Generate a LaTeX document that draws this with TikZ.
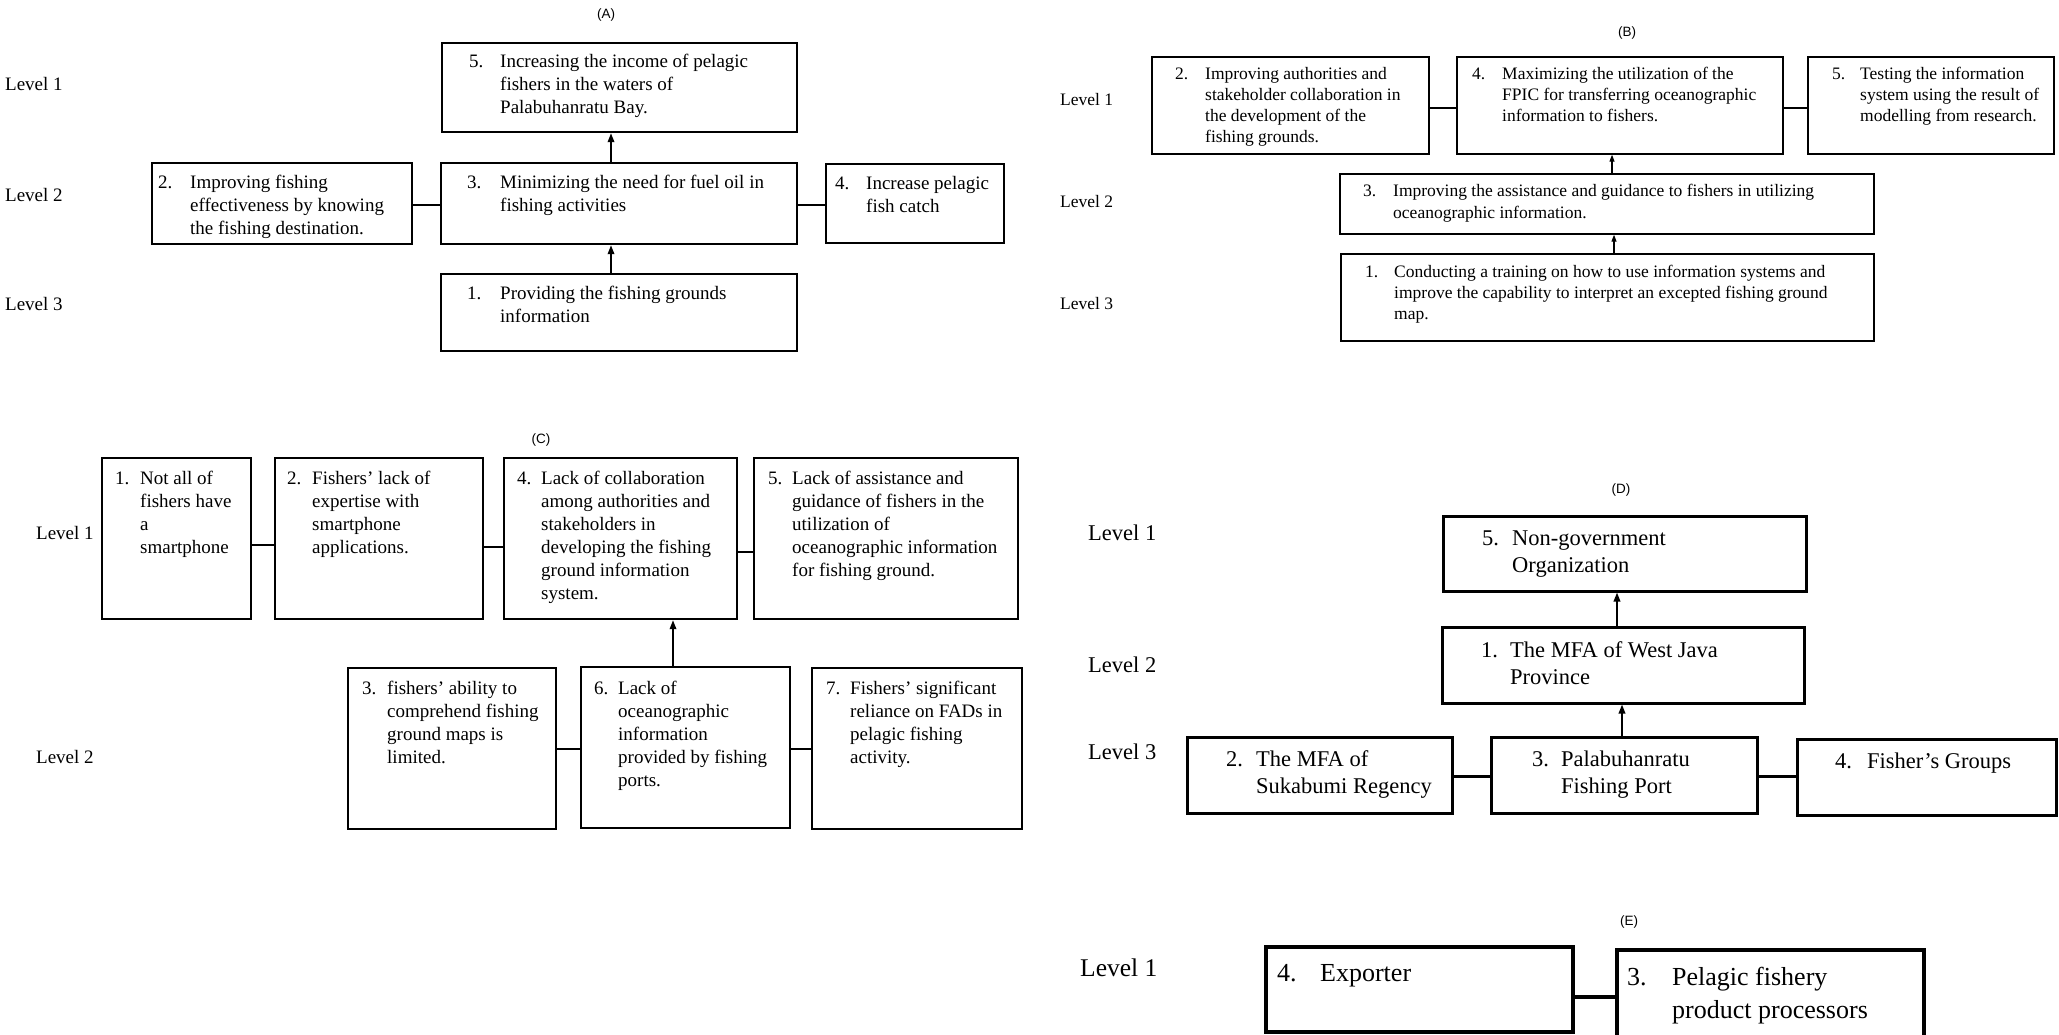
\documentclass[tikz,border=0pt]{standalone}
\usepackage{fontspec}
\setmainfont{Liberation Serif}
\newfontfamily\lblsans{Liberation Sans}
\usetikzlibrary{fit,arrows.meta}
\newcommand\numlist[3]{\makebox[#2][l]{#1}\begin{tabular}[t]{@{}l@{}}#3\end{tabular}}
\begin{document}
\begin{tikzpicture}[x=1pt,y=-1pt,
  bx/.style={draw, inner sep=0pt, line width=#1},
  abox/.style={bx=2.4pt},
  bbox/.style={bx=1.4pt},
  cbox/.style={bx=2.4pt},
  dbox/.style={bx=3pt},
  ebox/.style={bx=3.4pt},
  tx/.style={inner sep=0pt, anchor=base west},
  atx/.style={tx, font={\fontsize{19}{23}\selectfont}},
  btx/.style={tx, font={\fontsize{17.5}{21}\selectfont}},
  dtx/.style={tx, font={\fontsize{22.5}{27}\selectfont}},
  etx/.style={tx, font={\fontsize{26}{33}\selectfont}},
  lvA/.style={anchor=west, inner sep=0pt, font={\fontsize{19}{23}\selectfont}},
  lvB/.style={anchor=west, inner sep=0pt, font={\fontsize{17.5}{21}\selectfont}},
  lvD/.style={anchor=west, inner sep=0pt, font={\fontsize{22.5}{27}\selectfont}},
  lvE/.style={anchor=west, inner sep=0pt, font={\fontsize{25.5}{30}\selectfont}},
  ttl/.style={inner sep=0pt, font={\lblsans\fontsize{13.5}{16}\selectfont}},
  arrA/.style={-{Triangle[length=9pt,width=6.5pt]}, line width=1.8pt},
  arrB/.style={-{Triangle[length=7pt,width=5pt]}, line width=1.1pt},
  lnA/.style={line width=2.4pt},
  lnB/.style={line width=1.4pt},
  lnD/.style={line width=3pt},
  lnE/.style={line width=3.4pt}
]
\useasboundingbox (0,0) rectangle (2059,1035);

% ---------------- Panel A ----------------
\node[ttl] (tA) at (606,15) {(A)};
\node[lvA] (lA1) at (5,84) {Level 1};
\node[lvA] (lA2) at (5,195) {Level 2};
\node[lvA] (lA3) at (5,304) {Level 3};

\node[abox, fit={(442,43)(797,132)}] (a5) {};
\node[atx] (a5t) at (469,68) {\numlist{5.}{31pt}{Increasing the income of pelagic\\fishers in the waters of\\Palabuhanratu Bay.}};
\node[abox, fit={(152,163)(412,244)}] (a2) {};
\node[atx] (a2t) at (158,189) {\numlist{2.}{32pt}{Improving fishing\\effectiveness by knowing\\the fishing destination.}};
\node[abox, fit={(441,163)(797,244)}] (a3) {};
\node[atx] (a3t) at (467,189) {\numlist{3.}{33pt}{Minimizing the need for fuel oil in\\fishing activities}};
\node[abox, fit={(826,164)(1004,243)}] (a4) {};
\node[atx] (a4t) at (835,190) {\numlist{4.}{31pt}{Increase pelagic\\fish catch}};
\node[abox, fit={(441,274)(797,351)}] (a1) {};
\node[atx] (a1t) at (467,299) {\numlist{1.}{33pt}{Providing the fishing grounds\\information}};

\draw[arrA] ([xshift=-8pt]a3.north) -- ([xshift=-8.5pt]a5.south);
\draw[arrA] ([xshift=-8pt]a1.north) -- ([xshift=-8pt]a3.south);
\draw[lnA] ([yshift=-1.5pt]a2.east) -- ([yshift=-1.5pt]a3.west);
\draw[lnA] ([yshift=-1.5pt]a3.east) -- ([yshift=-1.5pt]a3.east -| a4.west);

% ---------------- Panel B ----------------
\node[ttl] (tB) at (1627,33) {(B)};
\node[lvB] (lB1) at (1060,100) {Level 1};
\node[lvB] (lB2) at (1060,202) {Level 2};
\node[lvB] (lB3) at (1060,304) {Level 3};

\node[bbox, fit={(1152,57)(1429,154)}] (b2) {};
\node[btx] (b2t) at (1175,80) {\numlist{2.}{30pt}{Improving authorities and\\stakeholder collaboration in\\the development of the\\fishing grounds.}};
\node[bbox, fit={(1457,57)(1783,154)}] (b4) {};
\node[btx] (b4t) at (1472,80) {\numlist{4.}{30pt}{Maximizing the utilization of the\\FPIC for transferring oceanographic\\information to fishers.}};
\node[bbox, fit={(1808,57)(2054,154)}] (b5) {};
\node[btx] (b5t) at (1832,80) {\numlist{5.}{28pt}{Testing the information\\system using the result of\\modelling from research.}};
\node[bbox, fit={(1340,174)(1874,234)}] (b3) {};
\node[btx] (b3t) at (1363,197) {\numlist{3.}{30pt}{Improving the assistance and guidance to fishers in utilizing\\oceanographic information.}};
\node[bbox, fit={(1341,254)(1874,341)}] (b1) {};
\node[btx] (b1t) at (1365,277) {\numlist{1.}{29pt}{Conducting a training on how to use information systems and\\improve the capability to interpret an excepted fishing ground\\map.}};

\draw[arrB] ([xshift=5pt]b3.north) -- ([xshift=-8pt]b4.south);
\draw[arrB] ([xshift=6.5pt]b1.north) -- ([xshift=7pt]b3.south);
\draw[lnB] ([yshift=-2.5pt]b2.east) -- ([yshift=-2.5pt]b4.west);
\draw[lnB] ([yshift=-2.5pt]b4.east) -- ([yshift=-2.5pt]b5.west);

% ---------------- Panel C ----------------
\node[ttl] (tC) at (541,440) {(C)};
\node[lvA] (lC1) at (36,533) {Level 1};
\node[lvA] (lC2) at (36,757) {Level 2};

\node[cbox, fit={(102,458)(251,619)}] (c1) {};
\node[atx] (c1t) at (115,484) {\numlist{1.}{25pt}{Not all of\\fishers have\\a\\smartphone}};
\node[cbox, fit={(275,458)(483,619)}] (c2) {};
\node[atx] (c2t) at (287,484) {\numlist{2.}{25pt}{Fishers’ lack of\\expertise with\\smartphone\\applications.}};
\node[cbox, fit={(504,458)(737,619)}] (c4) {};
\node[atx] (c4t) at (517,484) {\numlist{4.}{24pt}{Lack of collaboration\\among authorities and\\stakeholders in\\developing the fishing\\ground information\\system.}};
\node[cbox, fit={(754,458)(1018,619)}] (c5) {};
\node[atx] (c5t) at (768,484) {\numlist{5.}{24pt}{Lack of assistance and\\guidance of fishers in the\\utilization of\\oceanographic information\\for fishing ground.}};
\node[cbox, fit={(348,668)(556,829)}] (c3) {};
\node[atx] (c3t) at (362,694) {\numlist{3.}{25pt}{fishers’ ability to\\comprehend fishing\\ground maps is\\limited.}};
\node[cbox, fit={(581,667)(790,828)}] (c6) {};
\node[atx] (c6t) at (594,694) {\numlist{6.}{24pt}{Lack of\\oceanographic\\information\\provided by fishing\\ports.}};
\node[cbox, fit={(812,668)(1022,829)}] (c7) {};
\node[atx] (c7t) at (826,694) {\numlist{7.}{24pt}{Fishers’ significant\\reliance on FADs in\\pelagic fishing\\activity.}};

\draw[lnA] ([yshift=-6.5pt]c1.east) -- ([yshift=-6.5pt]c2.west);
\draw[lnA] ([yshift=-8.5pt]c2.east) -- ([yshift=-8.5pt]c4.west);
\draw[lnA] ([yshift=-13.5pt]c4.east) -- ([yshift=-13.5pt]c5.west);
\draw[lnA] ([yshift=-0.5pt]c3.east) -- ([yshift=-0.5pt]c3.east -| c6.west);
\draw[lnA] ([yshift=-1.5pt]c6.east) -- ([yshift=-1.5pt]c6.east -| c7.west);
\draw[arrA] ([xshift=-12.5pt]c6.north) -- ([xshift=52.5pt]c4.south);

% ---------------- Panel D ----------------
\node[ttl] (tD) at (1621,490) {(D)};
\node[lvD] (lD1) at (1088,533) {Level 1};
\node[lvD] (lD2) at (1088,665) {Level 2};
\node[lvD] (lD3) at (1088,752) {Level 3};

\node[dbox, fit={(1443,516)(1806,591)}] (d5) {};
\node[dtx] (d5t) at (1482,545) {\numlist{5.}{30pt}{Non-government\\Organization}};
\node[dbox, fit={(1442,627)(1804,703)}] (d1) {};
\node[dtx] (d1t) at (1481,657) {\numlist{1.}{29pt}{The MFA of West Java\\Province}};
\node[dbox, fit={(1187,737)(1452,813)}] (d2) {};
\node[dtx] (d2t) at (1226,766) {\numlist{2.}{30pt}{The MFA of\\Sukabumi Regency}};
\node[dbox, fit={(1491,737)(1757,813)}] (d3) {};
\node[dtx] (d3t) at (1532,766) {\numlist{3.}{29pt}{Palabuhanratu\\Fishing Port}};
\node[dbox, fit={(1797,739)(2056,815)}] (d4) {};
\node[dtx] (d4t) at (1835,768) {\numlist{4.}{32pt}{Fisher’s Groups}};

\draw[arrA] ([xshift=-6pt]d1.north) -- ([xshift=-7.5pt]d5.south);
\draw[arrA] ([xshift=-2pt]d3.north) -- ([xshift=-1pt]d1.south);
\draw[lnD] ([yshift=-1pt]d2.east) -- ([yshift=-1pt]d3.west);
\draw[lnD] ([yshift=-1pt]d3.east) -- ([yshift=-1pt]d3.east -| d4.west);

% ---------------- Panel E ----------------
\node[ttl] (tE) at (1629,922) {(E)};
\node[lvE] (lE1) at (1080,968) {Level 1};

\node[ebox, fit={(1266,947)(1573,1032)}] (e4) {};
\node[etx] (e4t) at (1277,981) {\numlist{4.}{43pt}{Exporter}};
\node[ebox, fit={(1617,950)(1924,1045)}] (e3) {};
\node[etx] (e3t) at (1627,985) {\numlist{3.}{45pt}{Pelagic fishery\\product processors}};

\draw[lnE] (e4.east |- 0,997) -- (e3.west |- 0,997);
\end{tikzpicture}
\end{document}
